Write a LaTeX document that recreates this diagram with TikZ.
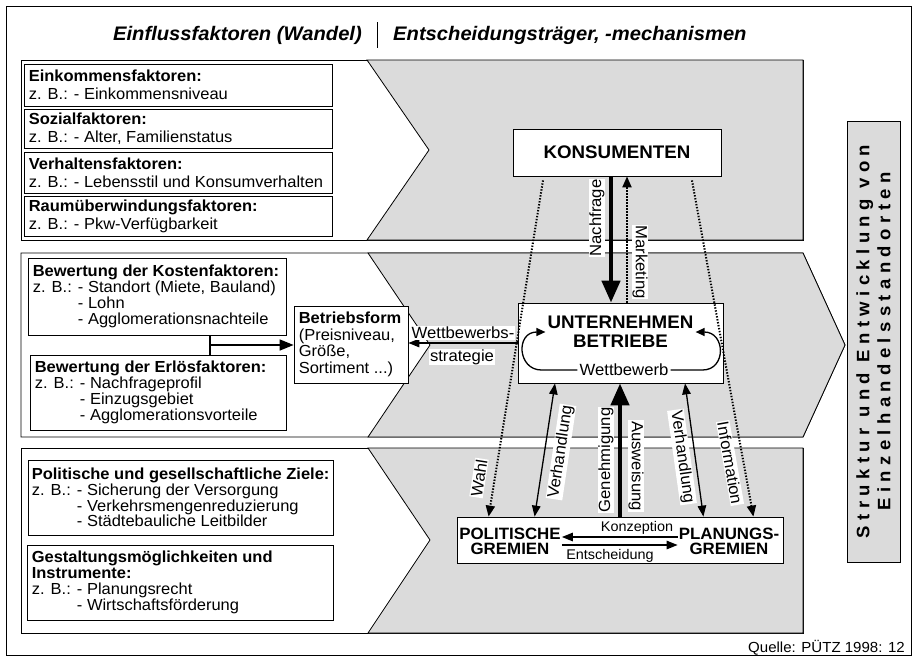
\documentclass[tikz,border=0pt]{standalone}
\usepackage{fontspec}
\setmainfont[FakeStretch=1.03]{Liberation Sans}
\usetikzlibrary{arrows.meta,calc}
\definecolor{bandgrey}{gray}{0.86}
\newcommand{\zbind}{\phantom{z. B.: }}
\begin{document}
\begin{tikzpicture}[x=1pt,y=-1pt,
  wbox/.style={draw, fill=white, line width=0.8pt, inner sep=0pt},
  btxt/.style={anchor=west, align=left, inner sep=0pt},
  band/.style={draw, line width=0.8pt},
  gband/.style={draw, fill=bandgrey, line width=0.8pt},
  lab/.style={fill=white, inner sep=0.8pt, font=\fontsize{16.2}{16}\selectfont},
  harrow/.style={line width=1.3pt, -{Triangle[length=11pt,width=8.5pt]}},
  darrow/.style={line width=1.3pt, {Triangle[length=11pt,width=8.5pt]}-{Triangle[length=11pt,width=8.5pt]}},
  fatarrow/.style={line width=4.5pt, -{Triangle[length=22pt,width=18pt]}},
  dotarrow/.style={line width=2pt, dash pattern=on 1.4pt off 1.6pt, -{Triangle[length=11pt,width=9pt]}},
  hdr/.style={font=\fontsize{19.6}{20}\selectfont\bfseries\itshape, inner sep=0pt},
]
\useasboundingbox (0,0) rectangle (915,664);
\fill[white] (0,0) rectangle (915,664);
\draw[line width=1pt] (6,6) rectangle (911,655);

% header
\node[hdr, anchor=east] (h1) at (362,35) {Einflussfaktoren (Wandel)};
\node[hdr, anchor=west] (h2) at (393,35) {Entscheidungsträger, -mechanismen};
\draw[line width=0.8pt] (377,22) -- (377,48);

% bands
\draw[band] (21,60) rectangle (803,240);
\draw[gband] (367,60) -- (803,60) -- (803,240) -- (367,240) -- (429,150) -- cycle;
\draw[band] (21,253) -- (803,253) -- (845,345) -- (803,437) -- (21,437) -- cycle;
\draw[gband] (368,253) -- (803,253) -- (845,345) -- (803,437) -- (368,437) -- (430,345) -- cycle;
\draw[band] (21,448) rectangle (803,633);
\draw[gband] (368,448) -- (803,448) -- (803,633) -- (368,633) -- (430,540) -- cycle;

% right box
\node[draw, fill=bandgrey, line width=0.8pt, rotate=90, minimum width=441pt, minimum height=53pt,
  align=center, inner sep=0pt,
  font=\fontsize{18}{21}\selectfont\bfseries\addfontfeatures{LetterSpace=30}] (RB) at (873.5,341.5)
  {Struktur und Entwicklung von\\Einzelhandelsstandorten};

% band 1 boxes
\node[wbox, minimum width=308pt, minimum height=42pt] (A) at (178,85) {};
\node[btxt, font=\fontsize{16}{18}\selectfont] (At) at ($(A.west)+(5,0)$) {\textbf{Einkommensfaktoren:}\\z. B.: - Einkommensniveau};
\node[wbox, minimum width=308pt, minimum height=39pt] (B) at (178,128.5) {};
\node[btxt, font=\fontsize{16}{18}\selectfont] (Bt) at ($(B.west)+(5,0)$) {\textbf{Sozialfaktoren:}\\z. B.: - Alter, Familienstatus};
\node[wbox, minimum width=308pt, minimum height=41pt] (C) at (178,172.5) {};
\node[btxt, font=\fontsize{16}{18}\selectfont] (Ct) at ($(C.west)+(5,0)$) {\textbf{Verhaltensfaktoren:}\\z. B.: - Lebensstil und Konsumverhalten};
\node[wbox, minimum width=308pt, minimum height=40pt] (D) at (178,216) {};
\node[btxt, font=\fontsize{16}{18}\selectfont] (Dt) at ($(D.west)+(5,0)$) {\textbf{Raumüberwindungsfaktoren:}\\z. B.: - Pkw-Verfügbarkeit};

% band 2 boxes
\node[wbox, minimum width=258pt, minimum height=77pt] (E) at (157,296.5) {};
\node[btxt, font=\fontsize{16}{15.8}\selectfont] (Et) at ($(E.west)+(5,0)$) {\textbf{Bewertung der Kostenfaktoren:}\\z. B.: - Standort (Miete, Bauland)\\\zbind- Lohn\\\zbind- Agglomerationsnachteile};
\node[wbox, minimum width=256pt, minimum height=75pt] (F) at (158,392.5) {};
\node[btxt, font=\fontsize{16}{15.8}\selectfont] (Ft) at ($(F.west)+(5,0)$) {\textbf{Bewertung der Erlösfaktoren:}\\z. B.: - Nachfrageprofil\\\zbind- Einzugsgebiet\\\zbind- Agglomerationsvorteile};
\node[wbox, minimum width=114pt, minimum height=77pt] (BETR) at (351,344.5) {};
\node[btxt, font=\fontsize{16}{16.5}\selectfont] (BETRt) at ($(BETR.west)+(5,0)$) {\textbf{Betriebsform}\\(Preisniveau,\\Größe,\\Sortiment ...)};

% band 3 boxes
\node[wbox, minimum width=305pt, minimum height=75pt] (G) at (180.5,497.5) {};
\node[btxt, font=\fontsize{16}{15.8}\selectfont] (Gt) at ($(G.west)+(4,0)$) {\textbf{Politische und gesellschaftliche Ziele:}\\z. B.: - Sicherung der Versorgung\\\zbind- Verkehrsmengenreduzierung\\\zbind- Städtebauliche Leitbilder};
\node[wbox, minimum width=306pt, minimum height=75pt] (H) at (180,582.5) {};
\node[btxt, font=\fontsize{16}{15.8}\selectfont] (Ht) at ($(H.west)+(5,0)$) {\textbf{Gestaltungsmöglichkeiten und}\\\textbf{Instrumente:}\\z. B.: - Planungsrecht\\\zbind- Wirtschaftsförderung};

% actors
\node[wbox, minimum width=208pt, minimum height=47pt, font=\fontsize{18.2}{18}\selectfont\bfseries] (KONS) at (617,152.5) {KONSUMENTEN};
\node[wbox, minimum width=205pt, minimum height=80pt] (UNT) at (620.5,343) {};
\node[align=center, inner sep=2pt, font=\fontsize{18.2}{19}\selectfont\bfseries] (ut) at (620.5,332) {UNTERNEHMEN\\BETRIEBE};
\node[inner sep=2pt, font=\fontsize{16.2}{16}\selectfont] (wb) at (624,370) {Wettbewerb};
\node[wbox, minimum width=326pt, minimum height=46pt] (GREM) at (620,540) {};
\node[align=center, inner sep=1pt, font=\fontsize{16.4}{15}\selectfont\bfseries] (pol) at (510,541) {POLITISCHE\\GREMIEN};
\node[align=center, inner sep=1pt, font=\fontsize{16.4}{15}\selectfont\bfseries] (pla) at (729,541) {PLANUNGS-\\GREMIEN};
\node[inner sep=0pt, font=\fontsize{14}{14}\selectfont] (konz) at (637,528) {Konzeption};
\node[inner sep=0pt, font=\fontsize{14}{14}\selectfont] (ents) at (610,556) {Entscheidung};

% Wettbewerb loops
\draw[line width=1.3pt, -{Triangle[length=9pt,width=8pt]}] (wb.west) -- ++(-36,0) .. controls +(-24,0) and +(-30,0) .. (ut.west);
\draw[line width=1.3pt, -{Triangle[length=9pt,width=8pt]}] (wb.east) -- ++(32,0) .. controls +(24,0) and +(30,0) .. (ut.east);

% left arrows
\draw[line width=1.6pt] ([xshift=53pt]E.south) -- ([xshift=52pt]F.north);
\coordinate (ef) at ($([xshift=53pt]E.south)!0.5!([xshift=52pt]F.north)$);
\draw[line width=1.6pt, -{Triangle[length=14pt,width=11pt]}] (ef) -- (ef -| BETR.west);
\draw[harrow] (UNT.west) -- (UNT.west -| BETR.east);

% actor arrows
\draw[fatarrow] ([xshift=-6pt]KONS.south) -- ([xshift=-6pt]KONS.south |- UNT.north);
\draw[dotarrow] ([xshift=10pt]KONS.south |- UNT.north) -- ([xshift=10pt]KONS.south);
\draw[dotarrow] ([xshift=-74pt,yshift=-4pt]KONS.south) -- ([xshift=32pt]GREM.north west);
\draw[dotarrow] ([xshift=75pt,yshift=-4pt]KONS.south) -- ([xshift=-30pt]GREM.north east);
\draw[darrow] ([xshift=-65.5pt]UNT.south) -- ([xshift=78pt]GREM.north west);
\draw[darrow] ([xshift=64.5pt]UNT.south) -- ([xshift=-80pt]GREM.north east);
\draw[fatarrow] (GREM.north) -- (GREM.north |- UNT.south);
\draw[harrow] ([yshift=4pt]pla.west) -- ([yshift=4pt]pol.east);
\draw[harrow] ([yshift=-4pt]pol.east) -- ([yshift=-4pt]pla.west);

% labels
\node[lab, rotate=90] (nachf) at (597,218) {Nachfrage};
\node[lab, rotate=-90] (mark) at (640,262) {Marketing};
\node[lab] (wbs1) at (463,333) {Wettbewerbs-};
\node[lab] (wbs2) at (462,357) {strategie};
\node[lab, rotate=81] (wahl) at (479,478) {Wahl};
\node[lab, rotate=81.5] (verh1) at (561,452) {Verhandlung};
\node[lab, rotate=90] (gen) at (606,460) {Genehmigung};
\node[lab, rotate=-90] (ausw) at (636,466) {Ausweisung};
\node[lab, rotate=-82] (verh2) at (682,457) {Verhandlung};
\node[lab, rotate=-80] (info) at (730,463) {Information};

\node[anchor=east, inner sep=0pt, font=\fontsize{14.6}{14}\selectfont] (Q) at (905,648) {Quelle: PÜTZ 1998: 12};
\end{tikzpicture}
\end{document}
